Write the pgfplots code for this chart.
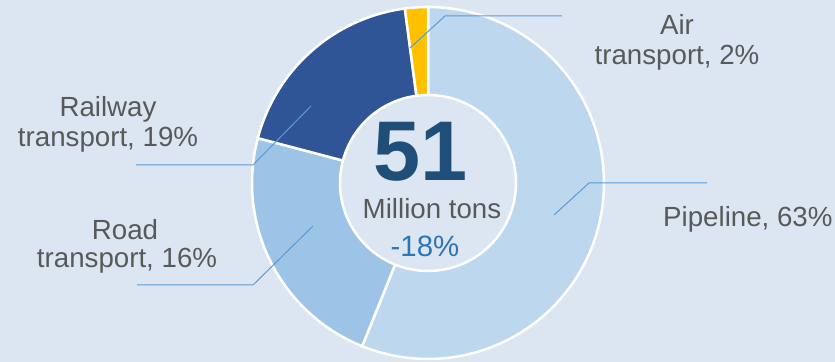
\documentclass[border=0pt]{standalone}
\usepackage{pgfplots}
\pgfplotsset{compat=1.18}
\usepackage{fontspec}
\setmainfont{Liberation Sans}
\definecolor{bg}{HTML}{DCE6F2}
\definecolor{cPipe}{HTML}{BDD7EE}
\definecolor{cRoad}{HTML}{9DC3E6}
\definecolor{cRail}{HTML}{2F5597}
\definecolor{cAir}{HTML}{FFC000}
\definecolor{lead}{HTML}{5B9BD5}
\definecolor{txt}{HTML}{595959}
\definecolor{big}{HTML}{1F4E79}
\definecolor{chg}{HTML}{2E75B6}
% shares of the ring as drawn (percent), clockwise from 12 o'clock
\def\pPipe{56.1}
\def\pRoad{23.0}
\def\pRail{18.8}
\def\pAir{2.1}
\pgfmathsetmacro\aZero{90}
\pgfmathsetmacro\aOne{\aZero-3.6*\pPipe}
\pgfmathsetmacro\aTwo{\aOne-3.6*\pRoad}
\pgfmathsetmacro\aThree{\aTwo-3.6*\pRail}
\pgfmathsetmacro\aFour{\aThree-3.6*\pAir}
\def\cx{428}
\def\cy{179}
\def\R{176}
\def\r{88}
\tikzset{lbl/.style={font=\fontsize{27.8}{30}\selectfont, text=txt, inner sep=0pt}}
\begin{document}
\begin{tikzpicture}
\begin{axis}[
  scale only axis, width=835bp, height=362bp,
  xmin=0, xmax=835, ymin=0, ymax=362,
  hide axis, clip=false,
]
\addplot[fill=bg, draw=none] coordinates {(0,0) (835,0) (835,362) (0,362)} -- cycle;
% slices
\addplot[fill=cPipe, draw=white, line width=2.5bp, domain=\aOne:\aZero, samples=120, variable=\t]
  ({\cx+\R*cos(\t)},{\cy+\R*sin(\t)}) -- (\cx,\cy) -- cycle;
\addplot[fill=cRoad, draw=white, line width=2.5bp, domain=\aTwo:\aOne, samples=60, variable=\t]
  ({\cx+\R*cos(\t)},{\cy+\R*sin(\t)}) -- (\cx,\cy) -- cycle;
\addplot[fill=cRail, draw=white, line width=2.5bp, domain=\aThree:\aTwo, samples=60, variable=\t]
  ({\cx+\R*cos(\t)},{\cy+\R*sin(\t)}) -- (\cx,\cy) -- cycle;
\addplot[fill=cAir, draw=white, line width=2.5bp, domain=\aFour:\aThree, samples=10, variable=\t]
  ({\cx+\R*cos(\t)},{\cy+\R*sin(\t)}) -- (\cx,\cy) -- cycle;
% hole
\addplot[fill=bg, draw=white, line width=2.5bp, domain=0:360, samples=120, variable=\t]
  ({\cx+\r*cos(\t)},{\cy+\r*sin(\t)}) -- cycle;
% leader lines
\addplot[lead, line width=1bp] coordinates {(410,314) (445,346) (562,346)};
\addplot[lead, line width=1bp] coordinates {(311,256) (253,197) (136,197)};
\addplot[lead, line width=1bp] coordinates {(313,136) (253,77) (137,77)};
\addplot[lead, line width=1bp] coordinates {(554,147) (589,179) (707,179)};
% labels
\node[lbl, anchor=base] at (677,327) {Air};
\node[lbl, anchor=base] at (677,297) {transport, 2\%};
\node[lbl, anchor=base] at (108,245) {Railway};
\node[lbl, anchor=base] at (108,215) {transport, 19\%};
\node[lbl, anchor=base] at (125,122) {Road};
\node[lbl, anchor=base] at (127,94) {transport, 16\%};
\node[lbl, anchor=base west] at (663,135) {Pipeline, 63\%};
% centre
\node[lbl, anchor=base, text depth=0pt, text=big, font=\fontsize{85}{90}\selectfont\bfseries] at (421,181) {51};
\node[lbl, anchor=base, text height=0.72em] at (432,143) {Million tons};
\node[lbl, anchor=base, text=chg, font=\fontsize{29.5}{32}\selectfont] at (425,105) {-18\%};
\end{axis}
\end{tikzpicture}
\end{document}
